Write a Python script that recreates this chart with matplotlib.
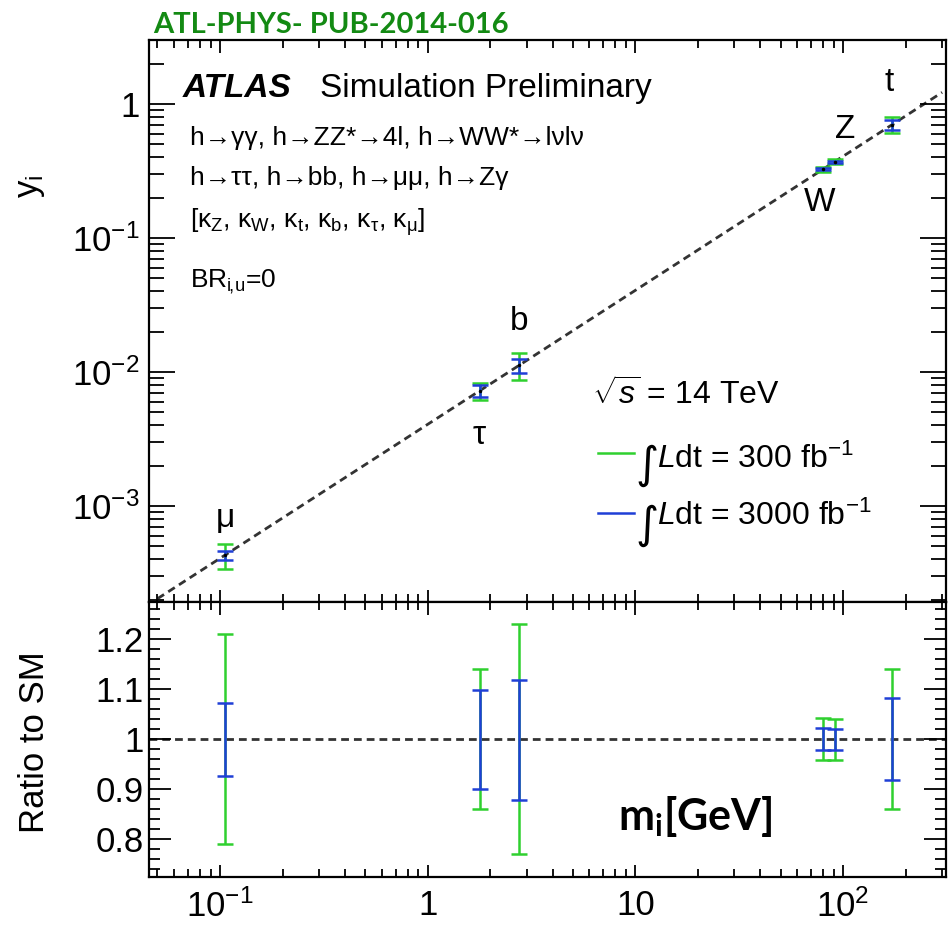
import matplotlib
matplotlib.use("Agg")
import matplotlib.pyplot as plt
import numpy as np

plt.rcParams['font.family'] = ['Liberation Sans', 'DejaVu Sans']
plt.rcParams['mathtext.fontset'] = 'custom'
plt.rcParams['mathtext.rm'] = 'Liberation Sans'
plt.rcParams['mathtext.it'] = 'Liberation Sans:italic'
plt.rcParams['mathtext.bf'] = 'Lato:bold'

# ---------------- data ----------------
particles = ["μ", "τ", "b", "W", "Z", "t"]
masses = [0.1057, 1.777, 2.76, 80.4, 91.2, 172.5]   # GeV
vev = 246.0
sm_line_range = [0.05, 300]

# ratio to SM, 300 fb-1 (green) and 3000 fb-1 (blue)
ratio_300_up = [1.21, 1.14, 1.23, 1.042, 1.040, 1.14]
ratio_300_dn = [0.79, 0.86, 0.77, 0.957, 0.958, 0.86]
ratio_3000_up = [1.072, 1.098, 1.118, 1.022, 1.020, 1.082]
ratio_3000_dn = [0.926, 0.900, 0.878, 0.977, 0.978, 0.917]

xticks = [0.1, 1, 10, 100]
xticklabels = ["$10^{-1}$", "1", "10", "$10^{2}$"]
yticks_top = [1e-3, 1e-2, 1e-1, 1]
yticklabels_top = ["$10^{-3}$", "$10^{-2}$", "$10^{-1}$", "1"]
yticks_bot = [0.8, 0.9, 1.0, 1.1, 1.2]
yticklabels_bot = ["0.8", "0.9", "1", "1.1", "1.2"]

GREEN = '#2fd02f'
BLUE = '#1f3fd6'
DASH = (0, (2.8, 1.8))

XLIM = (0.0455, 313)
YLIM_TOP = (1.92e-4, 3.0)
YLIM_BOT = (0.724, 1.274)


def log_minors(lo, hi):
    out = []
    for e in range(int(np.floor(np.log10(lo))) - 1, int(np.ceil(np.log10(hi))) + 1):
        for k in range(2, 10):
            v = k * 10.0 ** e
            if lo < v < hi:
                out.append(v)
    return out


m = np.array(masses)
y_sm = m / vev
r3u, r3d = np.array(ratio_300_up), np.array(ratio_300_dn)
r30u, r30d = np.array(ratio_3000_up), np.array(ratio_3000_dn)

fig = plt.figure(figsize=(9.49, 9.30), dpi=100)
ax1 = fig.add_axes([0.157, 0.3527, 0.8398, 0.6043])
ax2 = fig.add_axes([0.157, 0.057, 0.8398, 0.2957])

# ---------------- upper panel ----------------
xl = np.array(sm_line_range)
ax1.plot(xl, xl / vev, color='#333333', lw=2.0, linestyle=DASH, zorder=1)
ax1.errorbar(m, y_sm, yerr=[y_sm * (1 - r3d), y_sm * (r3u - 1)], fmt='none',
             ecolor=GREEN, elinewidth=1.8, capsize=6, capthick=1.8, zorder=2)
ax1.errorbar(m, y_sm, yerr=[y_sm * (1 - r30d), y_sm * (r30u - 1)], fmt='none',
             ecolor=BLUE, elinewidth=1.8, capsize=6, capthick=1.8, zorder=3)
ax1.plot(m, y_sm, 'o', color='black', ms=1.5, zorder=4)

label_offsets = [(0, 37), (0, -45), (0, 44), (-4, -33), (10, 32), (-3, 42)]
for name, mi, yi, off in zip(particles, masses, y_sm, label_offsets):
    ax1.annotate(name, xy=(mi, yi), xytext=off, textcoords='offset pixels',
                 ha='center', va='center', fontsize=24)

ax1.set_xscale('log')
ax1.set_yscale('log')
ax1.set_xlim(*XLIM)
ax1.set_ylim(*YLIM_TOP)
ax1.set_xticks(xticks)
ax1.set_xticks(log_minors(*XLIM), minor=True)
ax1.set_yticks(yticks_top)
ax1.set_yticklabels(yticklabels_top)
ax1.set_yticks(log_minors(*YLIM_TOP), minor=True)
ax1.tick_params(axis='x', which='both', labelbottom=False)

t = ax1.transAxes
ax1.text(0.0427, 0.899, "ATLAS", transform=t, fontsize=24, fontweight='bold',
         fontstyle='italic', va='baseline')
ax1.text(0.2146, 0.899, "Simulation Preliminary", transform=t, fontsize=24,
         va='baseline')
ax1.text(0.0514, 0.813, "h→γγ, h→ZZ*→4l, h→WW*→lνlν", transform=t,
         fontsize=19, va='baseline')
ax1.text(0.0514, 0.742, "h→ττ, h→bb, h→μμ, h→Zγ", transform=t,
         fontsize=19, va='baseline')
ax1.text(0.0514, 0.665,
         r"[κ$_{\mathrm{Z}}$, κ$_{\mathrm{W}}$, κ$_{\mathrm{t}}$, κ$_{\mathrm{b}}$, "
         r"κ$_{\mathrm{\tau}}$, κ$_{\mathrm{\mu}}$]",
         transform=t, fontsize=19, va='baseline')
ax1.text(0.0514, 0.560, r"BR$_{\mathrm{i}\!,\!\mathrm{u}}$=0", transform=t,
         fontsize=19, va='baseline')

# legend-like block
ax1.text(0.556, 0.350, r"$\sqrt{s}$ = 14 TeV", transform=t, fontsize=23,
         va='baseline')
for col, yline, ybase, lum in [(GREEN, 0.265, 0.238, "300"),
                               (BLUE, 0.158, 0.137, "3000")]:
    ax1.plot([0.563, 0.609], [yline, yline], color=col, lw=1.8, transform=t)
    ax1.text(0.611, yline - 0.022, "∫", transform=t, fontsize=32,
             family='DejaVu Sans', va='center')
    ax1.text(0.637, ybase, r"$L$dt = " + lum + r" fb$^{-1}$", transform=t,
             fontsize=23, va='baseline')

# ---------------- lower panel ----------------
ax2.axhline(1.0, color='#333333', lw=2.0, linestyle=DASH, zorder=1)
ones = np.ones_like(m)
ax2.errorbar(m, ones, yerr=[1 - r3d, r3u - 1], fmt='none', ecolor=GREEN,
             elinewidth=1.8, capsize=6, capthick=1.8, zorder=2)
ax2.errorbar(m, ones, yerr=[1 - r30d, r30u - 1], fmt='none', ecolor=BLUE,
             elinewidth=1.8, capsize=6, capthick=1.8, zorder=3)
ax2.set_xscale('log')
ax2.set_xlim(*XLIM)
ax2.set_ylim(*YLIM_BOT)
ax2.set_yticks(yticks_bot)
ax2.set_yticklabels(yticklabels_bot)
ax2.set_yticks(np.arange(0.74, 1.27, 0.02), minor=True)
ax2.set_xticks(xticks)
ax2.set_xticklabels(xticklabels)
ax2.set_xticks(log_minors(*XLIM), minor=True)
ax2.set_xticklabels([], minor=True)
ax2.text(0.588, 0.171, r"$\mathbf{m_i[GeV]}$", transform=ax2.transAxes,
         fontsize=31, va='baseline')

# ---------------- ticks / frame ----------------
for ax in (ax1, ax2):
    ax.tick_params(which='both', direction='in', top=True, right=True,
                   width=1.3, color='black', labelsize=25)
    ax.tick_params(axis='x', which='major', length=9)
    ax.tick_params(axis='x', which='minor', length=5.5)
    for s in ax.spines.values():
        s.set_linewidth(1.6)
ax1.tick_params(axis='y', which='major', length=19, pad=7)
ax1.tick_params(axis='y', which='minor', length=10.5)
ax2.tick_params(axis='y', which='major', length=16, pad=4)
ax2.tick_params(axis='y', which='minor', length=8)
ax2.tick_params(axis='x', pad=9)

fig.text(0.032, 0.80, r"y$_{\mathrm{i}}$", rotation=90, fontsize=25,
         ha='center', va='center')
fig.text(0.036, 0.202, "Ratio to SM", rotation=90, fontsize=25,
         ha='center', va='center')
fig.text(0.161, 0.9645, "ATL-PHYS- PUB-2014-016", color='#138a13',
         fontsize=21, fontweight='bold', family='Lato', va='baseline')

fig.savefig('out.png', dpi=100)
